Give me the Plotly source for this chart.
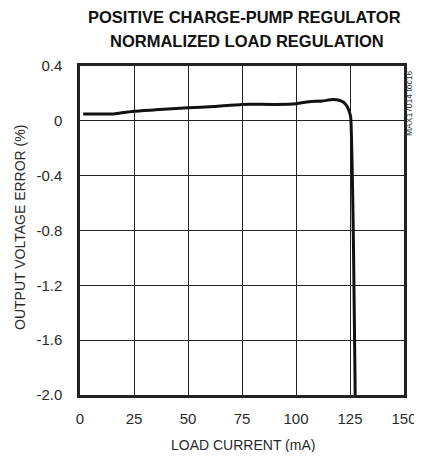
import plotly.graph_objects as go

load_current_ma = [1.5, 10, 15, 20, 25, 35, 50, 62, 75, 90, 100, 106, 112, 117, 120, 122, 123.5, 124.6, 125.3, 125.8, 126.2, 126.6, 126.9, 127.2, 127.4]
voltage_error_pct = [0.05, 0.05, 0.05, 0.06, 0.07, 0.08, 0.095, 0.105, 0.12, 0.12, 0.125, 0.14, 0.145, 0.155, 0.15, 0.135, 0.11, 0.07, 0.03, -0.2, -0.5, -0.9, -1.3, -1.7, -2.0]

x_ticks = [0, 25, 50, 75, 100, 125, 150]
y_ticks = [-2.0, -1.6, -1.2, -0.8, -0.4, 0, 0.4]
y_tick_labels = ["-2.0", "-1.6", "-1.2", "-0.8", "-0.4", "0", "0.4"]

font_family = "Liberation Sans, Arial, sans-serif"

# The page body has an 8px default margin; lay out in page pixels and shift.
OFF = 8
W, H = 422 - OFF, 444
plot_left, plot_right, plot_top, plot_bottom = 80, 404, 66, 395  # page px
L = plot_left - OFF
T = plot_top - OFF
R = W - (plot_right - OFF)
B = H - (plot_bottom - OFF)
PW, PH = W - L - R, H - T - B

fig = go.Figure()
fig.add_trace(go.Scatter(
    x=load_current_ma, y=voltage_error_pct, mode="lines",
    line=dict(color="#111111", width=3, shape="spline", smoothing=0.6),
    showlegend=False, hoverinfo="skip",
))

fig.update_layout(
    width=W, height=H,
    margin=dict(l=L, r=R, t=T, b=B, autoexpand=False),
    paper_bgcolor="white", plot_bgcolor="white",
    font=dict(family=font_family, color="#2a2a2a", size=15),
)
fig.update_xaxes(
    range=[0, 150], tickvals=x_ticks, ticks="", showgrid=True,
    gridcolor="#222222", gridwidth=1, zeroline=False,
    showline=True, linecolor="#222222", linewidth=2.5, mirror=True,
    tickfont=dict(size=15), automargin=False, ticklabelstandoff=8,
)
fig.update_yaxes(
    range=[-2.0, 0.4], tickvals=y_ticks, ticktext=y_tick_labels, ticks="",
    showgrid=True, gridcolor="#222222", gridwidth=1, zeroline=False,
    showline=True, linecolor="#222222", linewidth=2.5, mirror=True,
    tickfont=dict(size=15), automargin=False, ticklabelstandoff=12,
)

# (text, page x, page y, size, angle, color)
texts = [
    ("<b>POSITIVE CHARGE-PUMP REGULATOR</b>", 244, 17, 16.5, 0, "#111111"),
    ("<b>NORMALIZED LOAD REGULATION</b>", 247, 41, 16.5, 0, "#111111"),
    ("LOAD CURRENT (mA)", 243, 445, 14, 0, "#2a2a2a"),
    ("OUTPUT VOLTAGE ERROR (%)", 20, 228, 14, -90, "#2a2a2a"),
    ("MAX17014 toc16", 409, 104, 8.5, -90, "#333333"),
]
fig.update_layout(annotations=[
    dict(
        text=t, xref="paper", yref="paper",
        x=(px - OFF - L) / PW,
        y=1 - (py - OFF - T) / PH,
        xanchor="center", yanchor="middle", textangle=ang, showarrow=False,
        font=dict(size=sz, color=col, family=font_family),
    ) for (t, px, py, sz, ang, col) in texts
])

fig.write_html("out.html")
